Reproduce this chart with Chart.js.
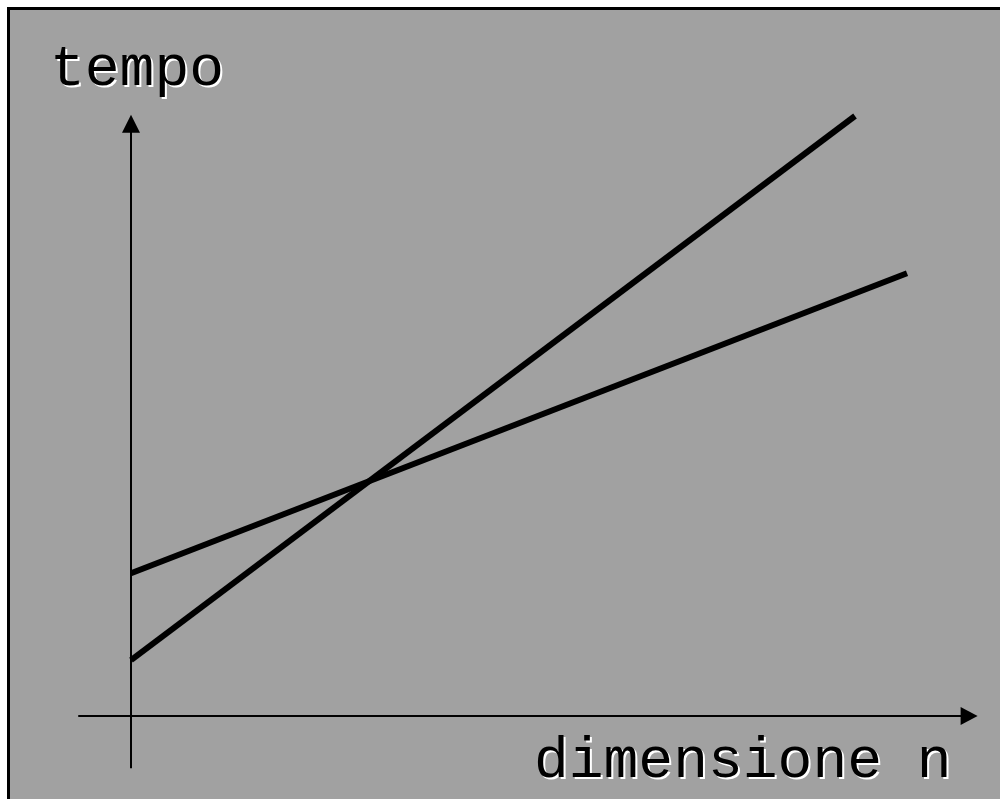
<!DOCTYPE html>
<html>
<head>
<meta charset="utf-8">
<script src="https://cdn.jsdelivr.net/npm/chart.js@4"></script>
<style>
  html, body { margin: 0; padding: 0; background: #ffffff; overflow: hidden; }
  .frame {
    position: absolute; left: 7px; top: 7px; width: 1000px; height: 800px;
    background: #a1a1a1; border-left: 3px solid #000; border-top: 3px solid #000;
  }
  #chart { position: absolute; left: 0; top: 0; }
</style>
</head>
<body>
<div class="frame"></div>
<canvas id="chart" width="1000" height="799"></canvas>
<script>
// two cost lines: time against input size n
const steepN = [0, 9.33];
const steepT = [0.93, 10];
const flatN = [0, 10];
const flatT = [2.38, 7.38];

// extent of the drawn axes (in data units)
const xAxisRange = [-0.68, 10.91];
const yAxisRange = [-0.87, 10.02];

const labelY = 'tempo';
const labelX = 'dimensione n';

const toPoints = (xs, ys) => xs.map((x, i) => ({ x: x, y: ys[i] }));

const drawLabel = (ctx, text, x, y) => {
  ctx.fillStyle = '#ffffff';
  ctx.fillText(text, x + 2, y + 2);
  ctx.fillStyle = '#000000';
  ctx.fillText(text, x, y);
};

const arrowAxes = {
  id: 'arrowAxes',
  beforeDatasetsDraw(chart) {
    const ctx = chart.ctx;
    const xs = chart.scales.x;
    const ys = chart.scales.y;
    const ox = xs.getPixelForValue(0);
    const oy = ys.getPixelForValue(0);
    const x0 = xs.getPixelForValue(xAxisRange[0]);
    const x1 = xs.getPixelForValue(xAxisRange[1]);
    const y0 = ys.getPixelForValue(yAxisRange[0]);
    const y1 = ys.getPixelForValue(yAxisRange[1]);

    ctx.save();
    ctx.strokeStyle = '#000';
    ctx.fillStyle = '#000';
    ctx.lineWidth = 2;

    ctx.beginPath();
    ctx.moveTo(x0, oy);
    ctx.lineTo(x1 - 14, oy);
    ctx.moveTo(ox, y0);
    ctx.lineTo(ox, y1 + 14);
    ctx.stroke();

    // arrow heads
    ctx.beginPath();
    ctx.moveTo(x1, oy);
    ctx.lineTo(x1 - 17, oy - 9);
    ctx.lineTo(x1 - 17, oy + 9);
    ctx.closePath();
    ctx.fill();

    ctx.beginPath();
    ctx.moveTo(ox, y1);
    ctx.lineTo(ox - 9, y1 + 18);
    ctx.lineTo(ox + 9, y1 + 18);
    ctx.closePath();
    ctx.fill();

    // axis names
    ctx.font = '58px "Courier New", "Nimbus Mono PS", FreeMono, "Liberation Mono", monospace';
    ctx.textBaseline = 'alphabetic';
    ctx.textAlign = 'left';
    drawLabel(ctx, labelY, ox - 81, y1 - 30);
    ctx.textAlign = 'right';
    drawLabel(ctx, labelX, x1 - 26, oy + 61);
    ctx.restore();
  }
};

new Chart(document.getElementById('chart'), {
  type: 'scatter',
  data: {
    datasets: [
      { data: toPoints(steepN, steepT) },
      { data: toPoints(flatN, flatT) }
    ]
  },
  options: {
    responsive: false,
    animation: false,
    layout: { padding: { left: 131, right: 93, top: 116, bottom: 83 } },
    elements: {
      line: { borderColor: '#000', borderWidth: 6, borderCapStyle: 'butt', tension: 0 },
      point: { radius: 0, hoverRadius: 0 }
    },
    datasets: { scatter: { showLine: true, clip: false } },
    scales: {
      x: { type: 'linear', min: 0, max: 10, display: false },
      y: { type: 'linear', min: 0, max: 10, display: false }
    },
    plugins: { legend: { display: false }, tooltip: { enabled: false } }
  },
  plugins: [arrowAxes]
});
</script>
</body>
</html>
